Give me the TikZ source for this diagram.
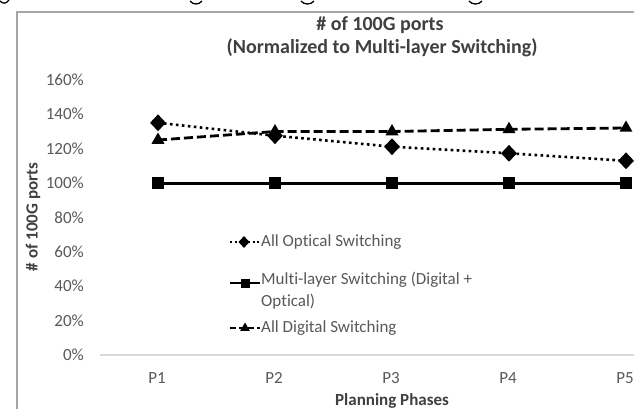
\documentclass[tikz,border=0pt]{standalone}
\usepackage{fontspec}
\setmainfont{Carlito}[Ligatures=NoCommon]
\usetikzlibrary{shapes.geometric}
\definecolor{ticktxt}{HTML}{595959}
\definecolor{titletxt}{HTML}{404040}
\definecolor{axisgray}{HTML}{D9D9D9}
\definecolor{framegray}{HTML}{A6A6A6}
\begin{document}
\begin{tikzpicture}[x=1pt,y=-1pt,
  ticklbl/.style={anchor=east, text=ticktxt, font=\fontsize{17}{20}\selectfont, inner sep=0},
  catlbl/.style={text=ticktxt, font=\fontsize{17}{20}\selectfont, inner sep=0},
  legtxt/.style={anchor=west, text=ticktxt, font=\fontsize{17}{22}\selectfont, inner sep=0, align=left},
  ttl/.style={text=titletxt, font=\bfseries\fontsize{20}{24}\selectfont, inner sep=0},
  axttl/.style={text=titletxt, font=\bfseries\fontsize{17}{20}\selectfont, inner sep=0},
  dmark/.style={diamond, fill=black, inner sep=0, minimum width=16pt, minimum height=17pt},
  smark/.style={rectangle, fill=black, inner sep=0, minimum size=12pt},
  tmark/.style={regular polygon, regular polygon sides=3, fill=black, inner sep=0, minimum size=15pt},
  optline/.style={black, line width=2.6pt, dash pattern=on 2.6pt off 3.4pt},
  digline/.style={black, line width=2.8pt, dash pattern=on 9pt off 4pt},
  mulline/.style={black, line width=3pt},
  stray/.style={black, line width=1.3pt}
]
\useasboundingbox (0,0) rectangle (634,409);
\fill[white] (0,0) rectangle (634,409);

% stray marks at the top edge
\draw[stray] (0,1) .. controls (3,4) and (6,4) .. (9,0);
\draw[stray] (190,1) .. controls (193,5) and (199,5) .. (202,1);
\draw[stray] (301,1) .. controls (304,5) and (311,5) .. (314,1);
\draw[stray] (469,1) .. controls (472,5) and (479,5) .. (482,1);

% chart frame
\draw[framegray, line width=2pt] (17,409) -- (17,12) -- (634,12);

% title
\node[ttl] (title1) at (380,25) {\# of 100G ports};
\node[ttl] (title2) at (382,48) {(Normalized to Multi-layer Switching)};

% y tick labels
\foreach \i in {0,...,8}{
  \pgfmathsetmacro{\yy}{355-34.4*\i}
  \pgfmathtruncatemacro{\vv}{20*\i}
  \node[ticklbl] (t\i) at (84,\yy) {\vv\%};
}
\node[axttl, rotate=90] (ytitle) at (33,217) {\# of 100G ports};

% x axis
\coordinate (ax0) at (100,355);
\coordinate (ax1) at (634,355);
\draw[axisgray, line width=1.5pt] (ax0) -- (ax1);
\foreach \i/\x in {1/158,2/275,3/392,4/509,5/626}{
  \node[catlbl] (p\i) at (\x-1,378) {P\i};
}
\node[axttl] (xtitle) at (392,401) {Planning Phases};

% data
\coordinate (o1) at (158,122.8);
\coordinate (o2) at (275,135.7);
\coordinate (o3) at (392,146.7);
\coordinate (o4) at (509,153.3);
\coordinate (o5) at (626,160.8);
\coordinate (d1) at (158,140);
\coordinate (d2) at (275,131.5);
\coordinate (d3) at (392,131.5);
\coordinate (d4) at (509,129.3);
\coordinate (d5) at (626,128);
\coordinate (m1) at (158,183);
\coordinate (m2) at (275,183);
\coordinate (m3) at (392,183);
\coordinate (m4) at (509,183);
\coordinate (m5) at (626,183);

\draw[mulline] (m1) -- (m2) -- (m3) -- (m4) -- (m5);
\draw[digline] (d1) -- (d2) -- (d3) -- (d4) -- (d5);
\draw[optline] (o1) -- (o2) -- (o3) -- (o4) -- (o5);
\foreach \i in {1,...,5}{
  \node[smark] (ms\i) at (m\i) {};
  \node[tmark] (ds\i) at (d\i) {};
  \node[dmark] (os\i) at (o\i) {};
}

% legend
\coordinate (la1) at (230,242);
\coordinate (lb1) at (259,242);
\coordinate (la2) at (230,283);
\coordinate (lb2) at (260,283);
\coordinate (la3) at (230,328);
\coordinate (lb3) at (260,328);
\draw[optline, line width=2pt, dash pattern=on 2pt off 2.5pt] (la1) -- (lb1);
\draw[mulline, line width=2.4pt] (la2) -- (lb2);
\draw[digline, line width=2.2pt, dash pattern=on 6pt off 3pt] (la3) -- (lb3);
\node[dmark, minimum width=11pt, minimum height=12pt] (lm1) at (244,242) {};
\node[smark, minimum size=9pt] (lm2) at (245,283) {};
\node[tmark, minimum size=11pt] (lm3) at (245,328) {};
\node[legtxt] (lt1) at (261,242) {All Optical Switching};
\node[legtxt, anchor=north west] (lt2) at (261,272) {Multi-layer Switching (Digital +\\Optical)};
\node[legtxt] (lt3) at (261,328) {All Digital Switching};
\end{tikzpicture}
\end{document}
